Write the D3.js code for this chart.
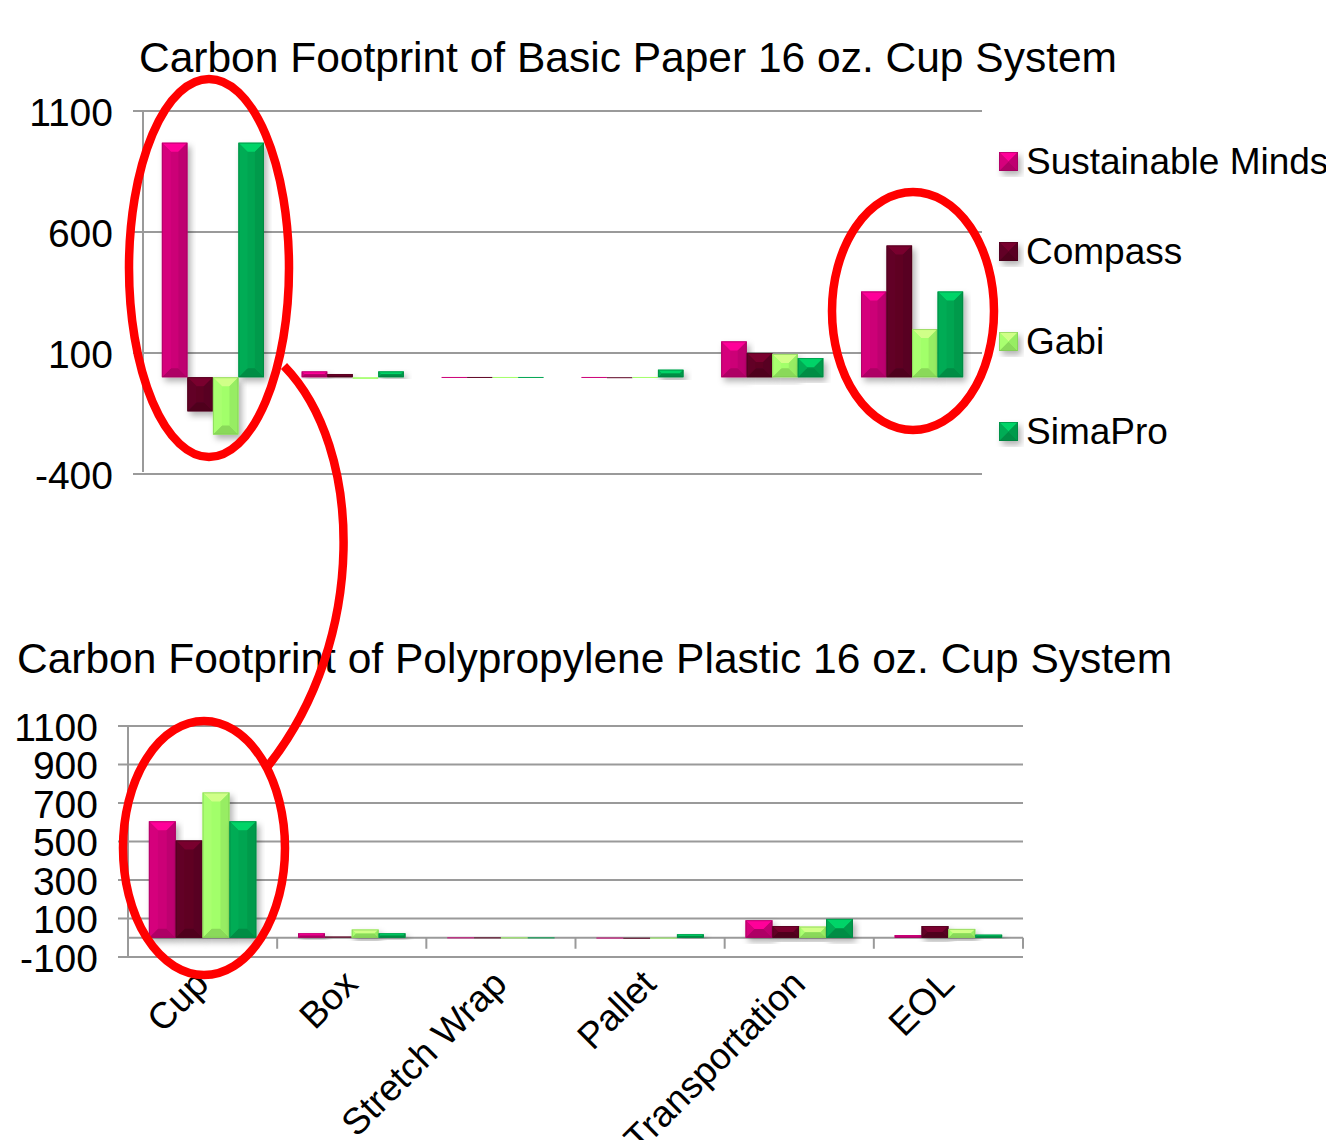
<!DOCTYPE html>
<html>
<head>
<meta charset="utf-8">
<script src="https://cdn.jsdelivr.net/npm/d3@7"></script>
<style>
  html, body { margin: 0; padding: 0; background: #fff; overflow: hidden; }
  svg text { font-family: "Liberation Sans", Arial, sans-serif; fill: #000; }
</style>
</head>
<body>
<div id="chart"></div>
<script>
const categories = ['Cup', 'Box', 'Stretch Wrap', 'Pallet', 'Transportation', 'EOL'];
const seriesNames = ['Sustainable Minds', 'Compass', 'Gabi', 'SimaPro'];
const seriesColors = ['#cc0077', '#5e0424', '#a2ff6a', '#00a551'];

// paper cup system (kg CO2e)
const paperSustainableMinds = [969, 24, 1, 1, 148, 354];
const paperCompass = [-141, 13, 1, 0, 100, 544];
const paperGabi = [-237, -7, 1, 1, 96, 199];
const paperSimaPro = [969, 24, 1, 31, 79, 354];
const paperTicks = [-400, 100, 600, 1100];

// polypropylene cup system
const plasticSustainableMinds = [605, 23, 2, 1, 91, 14];
const plasticCompass = [505, 7, 2, 0, 61, 61];
const plasticGabi = [755, 43, 2, 1, 58, 46];
const plasticSimaPro = [605, 23, 2, 18, 98, 16];
const plasticTicks = [-100, 100, 300, 500, 700, 900, 1100];

const width = 1326, height = 1140;

const svg = d3.select('#chart')
    .append('svg')
    .attr('width', width)
    .attr('height', height);

const defs = svg.append('defs');
defs.append('filter')
    .attr('id', 'shadow')
    .attr('x', '-30%').attr('y', '-30%').attr('width', '160%').attr('height', '160%')
    .append('feDropShadow')
    .attr('dx', 3).attr('dy', 4).attr('stdDeviation', 3)
    .attr('flood-color', '#000').attr('flood-opacity', 0.3);

// excel-ish bevelled box
function bevelBox(g, x, y, w, h, color) {
    const c = d3.color(color);
    const b = Math.min(9, w / 2, h / 2);
    const box = g.append('g').attr('filter', h > 3 ? 'url(#shadow)' : null);
    box.append('rect')
        .attr('x', x).attr('y', y).attr('width', w).attr('height', h)
        .attr('fill', color);
    if (h < 2) return;
    const poly = (pts, fill) => box.append('polygon')
        .attr('points', pts.map(p => p.join(',')).join(' '))
        .attr('fill', fill);
    poly([[x, y], [x + w, y], [x + w - b, y + b], [x + b, y + b]], c.brighter(0.7));
    poly([[x, y + h], [x + w, y + h], [x + w - b, y + h - b], [x + b, y + h - b]], c.darker(0.45));
    poly([[x, y], [x + b, y + b], [x + b, y + h - b], [x, y + h]], c.brighter(0.12));
    poly([[x + w, y], [x + w - b, y + b], [x + w - b, y + h - b], [x + w, y + h]], c.darker(0.2));
    box.append('rect')
        .attr('x', x + 0.5).attr('y', y + 0.5).attr('width', w - 1).attr('height', h - 1)
        .attr('fill', 'none').attr('stroke', c.darker(0.7)).attr('stroke-opacity', 0.6);
}

function drawChart(opts) {
    const { title, titleX, titleY, values, ticks, left, right, top, bottom, gridLeft, labelX, padInner, showAxis } = opts;

    const x0 = d3.scaleBand()
        .domain(categories)
        .range([left, right])
        .paddingInner(padInner)
        .paddingOuter(padInner / 2);

    const x1 = d3.scaleBand()
        .domain(seriesNames)
        .range([0, x0.bandwidth()]);

    const y = d3.scaleLinear()
        .domain([ticks[0], ticks[ticks.length - 1]])
        .range([bottom, top]);

    const g = svg.append('g');

    g.append('text')
        .attr('x', titleX).attr('y', titleY)
        .attr('font-size', 42.5)
        .text(title);

    // gridlines
    g.append('g')
        .selectAll('line')
        .data(ticks)
        .join('line')
        .attr('x1', gridLeft).attr('x2', right)
        .attr('y1', d => y(d)).attr('y2', d => y(d))
        .attr('stroke', '#9a9a9a').attr('stroke-width', 2);

    // y axis
    const yAxis = g.append('g')
        .attr('transform', `translate(${left},0)`)
        .call(d3.axisLeft(y).tickValues(ticks).tickSize(0).tickPadding(0).tickFormat(d => String(d)));
    yAxis.select('.domain').remove();
    yAxis.selectAll('text')
        .attr('x', labelX - left)
        .attr('dy', '0.36em')
        .attr('font-size', 39)
        .attr('font-family', '"Liberation Sans", Arial, sans-serif')
        .attr('fill', '#000');

    g.append('line')
        .attr('x1', left).attr('x2', left)
        .attr('y1', top).attr('y2', bottom + (showAxis ? 0 : -2))
        .attr('stroke', '#9a9a9a').attr('stroke-width', 2);

    if (showAxis) {
        const xa = g.append('g')
            .attr('transform', `translate(0,${y(0)})`);
        xa.append('line')
            .attr('x1', left).attr('x2', right)
            .attr('stroke', '#9a9a9a').attr('stroke-width', 2);
        xa.selectAll('.tick')
            .data(d3.range(categories.length + 1))
            .join('line')
            .attr('x1', i => left + i * x0.step()).attr('x2', i => left + i * x0.step())
            .attr('y1', 0).attr('y2', 11)
            .attr('stroke', '#9a9a9a').attr('stroke-width', 2);

        g.append('g')
            .selectAll('text')
            .data(categories)
            .join('text')
            .attr('text-anchor', 'end')
            .attr('font-size', 37)
            .attr('transform', d => `translate(${x0(d) + x0.bandwidth() / 2 + 8},${bottom + 29}) rotate(-45)`)
            .text(d => d);
    }

    const bars = g.append('g');
    categories.forEach((cat, i) => {
        seriesNames.forEach((s, j) => {
            const v = values[j][i];
            const y0 = y(0), yv = y(v);
            const yTop = Math.min(y0, yv);
            const h = Math.max(Math.abs(y0 - yv), 1);
            bevelBox(bars, x0(cat) + x1(s), yTop, x1.bandwidth(), h, seriesColors[j]);
        });
    });
}

drawChart({
    title: 'Carbon Footprint of Basic Paper 16 oz. Cup System',
    titleX: 139, titleY: 72,
    values: [paperSustainableMinds, paperCompass, paperGabi, paperSimaPro],
    ticks: paperTicks,
    left: 143, right: 982, top: 111, bottom: 474,
    gridLeft: 133, labelX: 113, padInner: 0.27, showAxis: false
});

drawChart({
    title: 'Carbon Footprint of Polypropylene Plastic 16 oz. Cup System',
    titleX: 17, titleY: 673,
    values: [plasticSustainableMinds, plasticCompass, plasticGabi, plasticSimaPro],
    ticks: plasticTicks,
    left: 128, right: 1023, top: 726, bottom: 957,
    gridLeft: 118, labelX: 98, padInner: 0.28, showAxis: true
});

// legend
const legend = svg.append('g').attr('transform', 'translate(999,0)');
seriesNames.forEach((s, j) => {
    const cy = 161 + j * 90;
    const item = legend.append('g');
    bevelBox(item, 0, cy - 9, 19, 19, seriesColors[j]);
    item.append('text')
        .attr('x', 27).attr('y', cy).attr('dy', '0.36em')
        .attr('font-size', 37)
        .text(s);
});

// red annotation rings and connector
const ann = svg.append('g')
    .attr('fill', 'none')
    .attr('stroke', '#ff0000')
    .attr('stroke-width', 8.5);
ann.append('ellipse').attr('cx', 209).attr('cy', 268).attr('rx', 80).attr('ry', 189);
ann.append('ellipse').attr('cx', 913).attr('cy', 311).attr('rx', 81).attr('ry', 119);
ann.append('ellipse').attr('cx', 204).attr('cy', 848).attr('rx', 81).attr('ry', 127);
ann.append('path').attr('d', 'M284,366 C364,448 368,640 268,766');
</script>
</body>
</html>
